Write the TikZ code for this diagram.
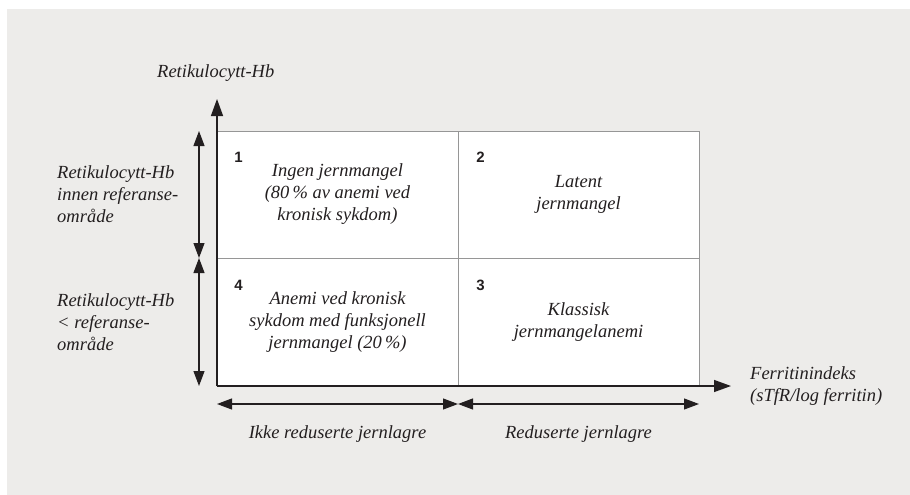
\documentclass[tikz,border=0pt]{standalone}
\usepackage{fontspec}
\setmainfont{Liberation Serif}
\setsansfont{Liberation Sans}
\usetikzlibrary{arrows.meta}
\definecolor{bg}{RGB}{237,236,234}
\definecolor{gridc}{RGB}{150,150,150}
\definecolor{ink}{RGB}{35,31,32}
\begin{document}
\begin{tikzpicture}[x=1pt,y=-1pt,
  every node/.style={text=ink},
  cell/.style={draw=gridc, line width=1pt, fill=white, minimum width=241pt, minimum height=127pt, inner sep=0pt, align=center, font=\fontsize{18.5}{22}\selectfont\itshape},
  numlbl/.style={font=\fontsize{15}{16}\selectfont\sffamily\bfseries, inner sep=0pt},
  lbl/.style={font=\fontsize{18.5}{22}\selectfont\itshape, inner sep=0pt},
  axis/.style={draw=ink, line width=1.4pt, -{Triangle[length=17pt,width=12pt]}},
  span/.style={draw=ink, line width=1.1pt, {Triangle[length=15pt,width=11pt]}-{Triangle[length=15pt,width=11pt]}}
]
\useasboundingbox (0,0) rectangle (910,495);
\fill[bg] (7,9) rectangle (910,495);

% cells
\node[cell] (c1) at (337.5,194.5) {Ingen jernmangel\\(80\,\% av anemi ved\\kronisk sykdom)};
\node[cell] (c2) at (578.5,194.5) {Latent\\jernmangel};
\node[cell] (c4) at (337.5,322) {Anemi ved kronisk\\sykdom med funksjonell\\jernmangel (20\,\%)};
\node[cell] (c3) at (578.5,322) {Klassisk\\jernmangelanemi};

\node[numlbl] (n1) at ([shift={(22,27)}]c1.north west) {1};
\node[numlbl] (n2) at ([shift={(23,27)}]c2.north west) {2};
\node[numlbl] (n4) at ([shift={(22,27)}]c4.north west) {4};
\node[numlbl] (n3) at ([shift={(23,27)}]c3.north west) {3};

% axes
\coordinate (O) at (217,386);
\coordinate (ytip) at (217,99);
\coordinate (xtip) at (731,386);
\draw[axis] (O) -- (ytip);
\draw[axis] (O) -- (xtip);

% vertical spans
\coordinate (vt) at (199,131);
\coordinate (vm) at (199,258);
\coordinate (vb) at (199,386);
\draw[span] (vt) -- (vm);
\draw[span] (vm) -- (vb);

% horizontal spans
\coordinate (hl) at (217,404);
\coordinate (hm) at (458,404);
\coordinate (hr) at (699,404);
\draw[span] (hl) -- (hm);
\draw[span] (hm) -- (hr);

% labels
\node[lbl, anchor=west] (ylab) at (157,73) {Retikulocytt-Hb};
\node[lbl, anchor=west, align=left] (l1) at (57,194) {Retikulocytt-Hb\\innen referanse-\\område};
\node[lbl, anchor=west, align=left] (l2) at (57,322) {Retikulocytt-Hb\\< referanse-\\område};
\node[lbl, anchor=west, align=left] (xlab) at (750,386) {Ferritinindeks\\(sTfR/log ferritin)};
\node[lbl] (b1) at (337.5,434) {Ikke reduserte jernlagre};
\node[lbl] (b2) at (578.5,434) {Reduserte jernlagre};
\end{tikzpicture}
\end{document}
